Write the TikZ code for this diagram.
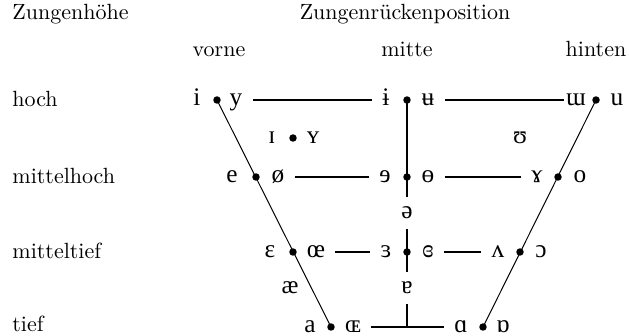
\documentclass[tikz,border=0pt]{standalone}
\usepackage{fontspec}
\newfontfamily\ipafont{Liberation Serif}
\begin{document}
\begin{tikzpicture}[x=0.4545pt,y=-0.4545pt,
  lab/.style={anchor=base west, inner sep=0pt},
  head/.style={anchor=base, inner sep=0pt},
  ipa/.style={font=\ipafont\fontsize{11.5}{13}\selectfont, inner xsep=4.5pt, inner ysep=4.5pt, text height=5pt, text depth=0pt, anchor=center},
  vdot/.style={circle, fill=black, inner sep=0pt, minimum size=3.4pt},
  mainline/.style={line width=0.9pt},
  slantline/.style={line width=0.45pt}]
\useasboundingbox (0,0) rectangle (629,336);
% headings
\node[lab] (hh) at (12,20) {Zungenhöhe};
\node[head] (hz) at (405,20) {Zungenrückenposition};
\node[head] (hv) at (219,57) {vorne};
\node[head] (hm) at (407,57) {mitte};
\node[head] (hb) at (596,57) {hinten};
\node[lab] (r1) at (12,107) {hoch};
\node[lab] (r2) at (12,183) {mittelhoch};
\node[lab] (r3) at (12,258) {mitteltief};
\node[lab] (r4) at (12,331) {tief};
% dots
\node[vdot] (d1) at (217,100) {};
\node[vdot] (d2) at (407,100) {};
\node[vdot] (d3) at (596,100) {};
\node[vdot] (dI) at (293,138) {};
\node[vdot] (d4) at (256,177) {};
\node[vdot] (d5) at (407,177) {};
\node[vdot] (d6) at (558,177) {};
\node[vdot] (d7) at (293,252) {};
\node[vdot] (d8) at (407,252) {};
\node[vdot] (d9) at (520,252) {};
\node[vdot] (d10) at (331,327) {};
\node[vdot] (d11) at (483,327) {};
\coordinate (T) at (407,327);
% vowels
\node[ipa] (vi) at (197,100) {i};
\node[ipa] (vy) at (236,100) {y};
\node[ipa] (vbi) at (386,100) {ɨ};
\node[ipa] (vbu) at (428,100) {ʉ};
\node[ipa,inner xsep=1pt] (vtm) at (576,100) {ɯ};
\node[ipa] (vu) at (617,100) {u};
\node[ipa] (vsi) at (272,138) {ɪ};
\node[ipa] (vsy) at (313,138) {ʏ};
\node[ipa] (vsu) at (520,138) {ʊ};
\node[ipa] (ve) at (232,177) {e};
\node[ipa] (voe) at (278,177) {ø};
\node[ipa] (vre) at (385,177) {ɘ};
\node[ipa] (vbo) at (428,177) {ɵ};
\node[ipa] (vram) at (537,177) {ɤ};
\node[ipa] (vo) at (580,177) {o};
\node[ipa] (vschwa) at (407,213) {ə};
\node[ipa] (veps) at (270,252) {ɛ};
\node[ipa] (voel) at (316,252) {œ};
\node[ipa] (vreps) at (386,252) {ɜ};
\node[ipa] (vcleps) at (428,252) {ɞ};
\node[ipa] (vtv) at (498,252) {ʌ};
\node[ipa] (voo) at (541,252) {ɔ};
\node[ipa] (vae) at (290,288) {æ};
\node[ipa] (vta) at (407,288) {ɐ};
\node[ipa] (va) at (310,327) {a};
\node[ipa] (vOE) at (353,327) {ɶ};
\node[ipa] (vsa) at (461,327) {ɑ};
\node[ipa] (vts) at (503,327) {ɒ};
% connectors
\draw[slantline] (d1.center) -- (d10.center);
\draw[slantline] (d3.center) -- (d11.center);
\draw[mainline] (vy.east) -- (vbi.west);
\draw[mainline] (vbu.east) -- (vtm.west);
\draw[mainline] (voe.east) -- (vre.west);
\draw[mainline] (vbo.east) -- (vram.west);
\draw[mainline] (voel.east) -- (vreps.west);
\draw[mainline] (vcleps.east) -- (vtv.west);
\draw[mainline] (vOE.east) -- (vsa.west);
\draw[mainline] (d2.center) -- (vschwa.north);
\draw[mainline] (vschwa.south) -- (vta.north);
\draw[mainline] (vta.south) -- (T);
\end{tikzpicture}
\end{document}
